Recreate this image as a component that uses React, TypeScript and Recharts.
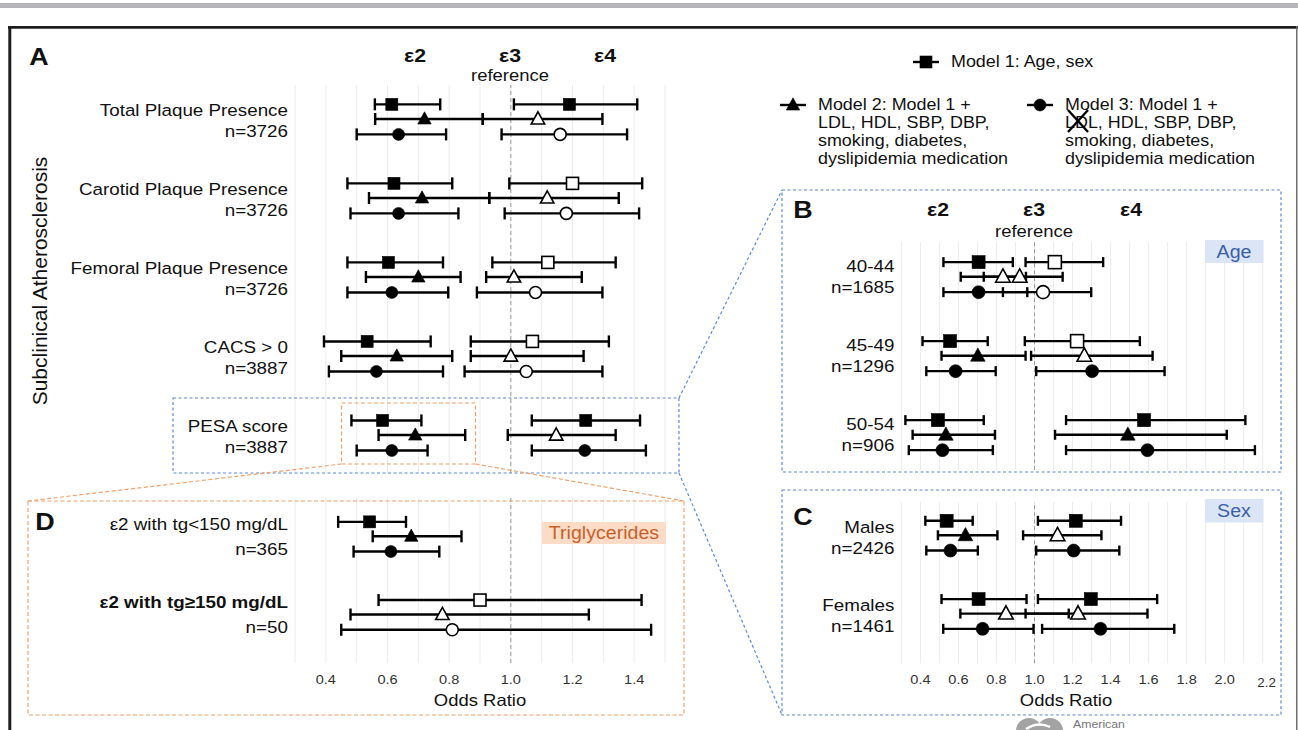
import React from "react";
import { ScatterChart, Scatter, XAxis, YAxis, ErrorBar, CartesianGrid, ReferenceLine } from "recharts";

type Est = [number, number, number, number]; // OR, lower CI, upper CI, filled (1) / open (0)

// ---- Panel A: subclinical atherosclerosis ----
const outcomesA = ["Total Plaque Presence", "Carotid Plaque Presence", "Femoral Plaque Presence", "CACS > 0", "PESA score"];
const nA = ["n=3726", "n=3726", "n=3726", "n=3887", "n=3887"];
const e2M1A: Est[] = [[0.614, 0.559, 0.771, 1], [0.621, 0.47, 0.81, 1], [0.603, 0.47, 0.78, 1], [0.534, 0.394, 0.74, 1], [0.584, 0.483, 0.71, 1]];
const e2M2A: Est[] = [[0.72, 0.56, 0.909, 1], [0.712, 0.54, 0.93, 1], [0.7, 0.53, 0.837, 1], [0.63, 0.45, 0.81, 1], [0.69, 0.571, 0.852, 1]];
const e2M3A: Est[] = [[0.636, 0.5, 0.79, 1], [0.636, 0.48, 0.83, 1], [0.614, 0.47, 0.797, 1], [0.564, 0.41, 0.78, 1], [0.614, 0.5, 0.73, 1]];
const e4M1A: Est[] = [[1.19, 1.01, 1.41, 1], [1.2, 0.995, 1.426, 0], [1.12, 0.94, 1.34, 0], [1.07, 0.87, 1.318, 0], [1.243, 1.068, 1.419, 1]];
const e4M2A: Est[] = [[1.088, 0.909, 1.297, 0], [1.118, 0.93, 1.35, 0], [1.01, 0.92, 1.23, 0], [1.0, 0.87, 1.236, 0], [1.147, 0.99, 1.34, 0]];
const e4M3A: Est[] = [[1.16, 0.97, 1.377, 0], [1.18, 0.98, 1.416, 0], [1.08, 0.89, 1.297, 0], [1.05, 0.85, 1.297, 0], [1.24, 1.068, 1.438, 1]];

// ---- Panel B: age ----
const groupsB = ["40-44", "45-49", "50-54"];
const nB = ["n=1685", "n=1296", "n=906"];
const e2M1B: Est[] = [[0.706, 0.521, 0.886, 1], [0.556, 0.411, 0.754, 1], [0.492, 0.321, 0.733, 1]];
const e2M2B: Est[] = [[0.834, 0.612, 0.955, 0], [0.702, 0.511, 0.953, 1], [0.534, 0.359, 0.792, 1]];
const e2M3B: Est[] = [[0.706, 0.521, 0.962, 1], [0.585, 0.431, 0.796, 1], [0.516, 0.339, 0.781, 1]];
const e4M1B: Est[] = [[1.107, 0.953, 1.361, 0], [1.224, 0.949, 1.554, 0], [1.576, 1.166, 2.109, 1]];
const e4M2B: Est[] = [[0.922, 0.733, 1.148, 0], [1.262, 0.982, 1.621, 0], [1.491, 1.108, 2.011, 1]];
const e4M3B: Est[] = [[1.045, 0.834, 1.298, 0], [1.303, 1.009, 1.684, 1], [1.594, 1.166, 2.159, 1]];

// ---- Panel C: sex ----
const groupsC = ["Males", "Females"];
const nC = ["n=2426", "n=1461"];
const e2M1C: Est[] = [[0.538, 0.426, 0.675, 1], [0.706, 0.511, 0.958, 1]];
const e2M2C: Est[] = [[0.637, 0.492, 0.805, 1], [0.85, 0.61, 1.18, 0]];
const e2M3C: Est[] = [[0.558, 0.431, 0.702, 1], [0.727, 0.52, 0.995, 1]];
const e4M1C: Est[] = [[1.217, 1.018, 1.455, 1], [1.296, 1.018, 1.645, 1]];
const e4M2C: Est[] = [[1.121, 0.94, 1.352, 0], [1.229, 0.953, 1.594, 0]];
const e4M3C: Est[] = [[1.206, 1.009, 1.446, 1], [1.347, 1.04, 1.735, 1]];

// ---- Panel D: triglycerides (e2 only) ----
const groupsD = ["ε2 with tg<150 mg/dL", "ε2 with tg≥150 mg/dL"];
const nD = ["n=365", "n=50"];
const e2M1D: Est[] = [[0.542, 0.44, 0.66, 1], [0.9, 0.571, 1.424, 0]];
const e2M2D: Est[] = [[0.677, 0.552, 0.84, 1], [0.778, 0.48, 1.253, 0]];
const e2M3D: Est[] = [[0.611, 0.49, 0.768, 1], [0.81, 0.45, 1.455, 0]];

// axes
const gridNarrow = [0.3, 0.4, 0.5, 0.6, 0.7, 0.8, 0.9, 1.0, 1.1, 1.2, 1.3, 1.4, 1.5];
const gridWide = [0.3, 0.4, 0.5, 0.6, 0.7, 0.8, 0.9, 1.0, 1.1, 1.2, 1.3, 1.4, 1.5, 1.6, 1.7, 1.8, 1.9, 2.0, 2.1, 2.2];
const ticksNarrow = [0.4, 0.6, 0.8, 1.0, 1.2, 1.4];
const ticksWide = [0.4, 0.6, 0.8, 1.0, 1.2, 1.4, 1.6, 1.8, 2.0, 2.2];

const FONT = '"Liberation Sans", Arial, Helvetica, sans-serif';
const STRETCH = 1.12;
const MODEL_OFFSET = [-0.185, 0, 0.195];
const SHAPES = ["square", "triangle", "circle"];

function SText({ x, y, size, children, anchor = "start", weight = 400, fill = "#111", sx = STRETCH }: any) {
  return (
    <text
      transform={`translate(${x} ${y}) scale(${sx} 1)`}
      fontSize={size}
      fontWeight={weight}
      fill={fill}
      textAnchor={anchor}
      dominantBaseline="central"
    >
      {children}
    </text>
  );
}

function buildPoints(e2: Est[], e4: Est[] | undefined, m: number) {
  const pts: any[] = [];
  [e2, e4 || []].forEach((set) =>
    set.forEach((r, i) =>
      pts.push({ x: r[0], y: i + MODEL_OFFSET[m], err: [r[0] - r[1], r[2] - r[0]], filled: r[3] === 1 })
    )
  );
  return pts;
}

function Marker(props: any) {
  const { cx, cy, payload, kind, s } = props;
  if (typeof cx !== "number" || typeof cy !== "number") return null;
  const filled = payload && payload.filled;
  const fill = filled ? "#000" : "#fff";
  const sw = filled ? 0.6 : 1.6;
  if (kind === "square")
    return <rect x={cx - s / 2} y={cy - s / 2} width={s} height={s} fill={fill} stroke="#000" strokeWidth={sw} />;
  if (kind === "triangle") {
    const hw = s * 0.56;
    return (
      <polygon
        points={`${cx},${cy - s * 0.6} ${cx + hw},${cy + s * 0.42} ${cx - hw},${cy + s * 0.42}`}
        fill={fill}
        stroke="#000"
        strokeWidth={sw}
        strokeLinejoin="miter"
      />
    );
  }
  return <circle cx={cx} cy={cy} r={s / 2} fill={fill} stroke="#000" strokeWidth={sw} />;
}

function RowLabel(props: any) {
  const { x, y, payload, names, ns, size, up, down, boldRow } = props;
  const i = payload.value;
  return (
    <g>
      <SText x={x} y={y - up} size={size} anchor="end" weight={i === boldRow ? 700 : 400}>
        {names[i]}
      </SText>
      <SText x={x} y={y + down} size={size} anchor="end">
        {ns[i]}
      </SText>
    </g>
  );
}

function AxisTick(props: any) {
  const { x, y, payload } = props;
  const v = payload.value;
  const small = Math.abs(v - 2.2) < 1e-6;
  return (
    <SText x={small ? x + 4 : x} y={y + (small ? 19 : 16.5)} size={small ? 12 : 13} anchor="middle" fill="#333">
      {v.toFixed(1)}
    </SText>
  );
}

type PanelProps = {
  left: number;
  top: number;
  width: number;
  plotHeight: number;
  axisHeight: number;
  labelWidth: number;
  names: string[];
  ns: string[];
  e2: Est[][];
  e4?: Est[][];
  xDomain: [number, number];
  grid: number[];
  yDomain: [number, number];
  ticks?: number[];
  labelSize: number;
  up: number;
  down: number;
  boldRow?: number;
  markerSize: number;
  cap: number;
};

const RIGHT_PAD = 14;

function ForestPanel(p: PanelProps) {
  const showAxis = !!p.ticks;
  return (
    <div style={{ position: "absolute", left: p.left, top: p.top }}>
      <ScatterChart
        width={p.width + RIGHT_PAD}
        height={p.plotHeight + (showAxis ? p.axisHeight : 0)}
        margin={{ top: 0, right: RIGHT_PAD, bottom: 0, left: 0 }}
      >
        <CartesianGrid horizontal={false} verticalValues={p.grid} stroke="#ececec" strokeWidth={1} />
        <XAxis
          type="number"
          dataKey="x"
          domain={p.xDomain}
          allowDataOverflow
          ticks={p.ticks || p.grid}
          interval={0}
          hide={!showAxis}
          height={p.axisHeight}
          axisLine={false}
          tickLine={false}
          tickSize={0}
          tickMargin={0}
          tick={(t: any) => <AxisTick {...t} />}
        />
        <YAxis
          type="number"
          dataKey="y"
          domain={p.yDomain}
          allowDataOverflow
          reversed
          ticks={p.names.map((_, i) => i)}
          interval={0}
          width={p.labelWidth}
          axisLine={false}
          tickLine={false}
          tickSize={0}
          tickMargin={7}
          tick={(t: any) => (
            <RowLabel {...t} names={p.names} ns={p.ns} size={p.labelSize} up={p.up} down={p.down} boldRow={p.boldRow} />
          )}
        />
        <ReferenceLine x={1} stroke="#9c9c9c" strokeDasharray="4 3" strokeWidth={1} />
        {[0, 1, 2].map((m) => (
          <Scatter
            key={m}
            data={buildPoints(p.e2[m], p.e4 ? p.e4[m] : undefined, m)}
            isAnimationActive={false}
            shape={(s: any) => <Marker {...s} kind={SHAPES[m]} s={p.markerSize} />}
          >
            <ErrorBar dataKey="err" direction="x" width={p.cap} strokeWidth={2.4} stroke="#000" isAnimationActive={false} />
          </Scatter>
        ))}
      </ScatterChart>
    </div>
  );
}

function LegendKey({ x, y, kind }: any) {
  return (
    <g>
      <line x1={x - 13} y1={y} x2={x + 13} y2={y} stroke="#000" strokeWidth={2.4} />
      <Marker cx={x} cy={y} payload={{ filled: true }} kind={kind} s={12} />
    </g>
  );
}

const BLUE = "#5a8ad8";
const ORANGE = "#f2a06a";
const LEG = 16;

export default function App() {
  return (
    <div
      style={{
        position: "absolute",
        left: 0,
        top: 0,
        width: 1298,
        height: 730,
        overflow: "hidden",
        background: "#fff",
        fontFamily: FONT,
      }}
    >
      <ForestPanel
        left={40}
        top={85}
        width={625}
        plotHeight={388}
        axisHeight={0}
        labelWidth={255}
        names={outcomesA}
        ns={nA}
        e2={[e2M1A, e2M2A, e2M3A]}
        e4={[e4M1A, e4M2A, e4M3A]}
        xDomain={[0.3, 1.5]}
        grid={gridNarrow}
        yDomain={[-0.43, 4.48]}
        labelSize={16.8}
        up={9}
        down={12}
        markerSize={12}
        cap={6}
      />
      <ForestPanel
        left={40}
        top={498}
        width={625}
        plotHeight={165}
        axisHeight={50}
        labelWidth={255}
        names={groupsD}
        ns={nD}
        e2={[e2M1D, e2M2D, e2M3D]}
        xDomain={[0.3, 1.5]}
        grid={gridNarrow}
        yDomain={[-0.49, 1.62]}
        ticks={ticksNarrow}
        labelSize={16.8}
        up={12}
        down={13}
        boldRow={1}
        markerSize={12}
        cap={6}
      />
      <ForestPanel
        left={800}
        top={241.7}
        width={462.7}
        plotHeight={228.3}
        axisHeight={0}
        labelWidth={101.4}
        names={groupsB}
        ns={nB}
        e2={[e2M1B, e2M2B, e2M3B]}
        e4={[e4M1B, e4M2B, e4M3B]}
        xDomain={[0.3, 2.2]}
        grid={gridWide}
        yDomain={[-0.44, 2.45]}
        labelSize={16.8}
        up={10}
        down={11}
        markerSize={13}
        cap={5}
      />
      <ForestPanel
        left={800}
        top={501.7}
        width={462.7}
        plotHeight={161.3}
        axisHeight={50}
        labelWidth={101.4}
        names={groupsC}
        ns={nC}
        e2={[e2M1C, e2M2C, e2M3C]}
        e4={[e4M1C, e4M2C, e4M3C]}
        xDomain={[0.3, 2.2]}
        grid={gridWide}
        yDomain={[-0.425, 1.635]}
        ticks={ticksWide}
        labelSize={16.8}
        up={8}
        down={13}
        markerSize={13}
        cap={5}
      />

      <svg
        width={1298}
        height={730}
        style={{ position: "absolute", left: 0, top: 0, pointerEvents: "none", fontFamily: FONT }}
      >
        {/* page chrome */}
        <rect x={0} y={3} width={1298} height={5} fill="#b4b4b9" />
        <line x1={8} y1={27.3} x2={1298} y2={27.3} stroke="#1e1e1e" strokeWidth={2.8} />
        <line x1={9.8} y1={26} x2={9.8} y2={730} stroke="#1e1e1e" strokeWidth={3} />
        <line x1={1296.8} y1={26} x2={1296.8} y2={730} stroke="#6e6e6e" strokeWidth={1.5} />

        {/* panel A headers */}
        <SText x={39} y={57} size={24} weight={700} anchor="middle">A</SText>
        <SText x={415} y={55} size={19} weight={700} anchor="middle">ε2</SText>
        <SText x={510} y={55} size={19} weight={700} anchor="middle">ε3</SText>
        <SText x={605} y={55} size={19} weight={700} anchor="middle">ε4</SText>
        <SText x={510} y={75} size={16.5} anchor="middle">reference</SText>
        <text
          transform="translate(39 281) rotate(-90)"
          fontSize={21}
          fill="#111"
          textAnchor="middle"
          dominantBaseline="central"
        >
          Subclinical Atherosclerosis
        </text>

        {/* zoom boxes and connectors */}
        <rect x={173} y={398} width={506} height={75} fill="none" stroke={BLUE} strokeWidth={1.2} strokeDasharray="3 2.5" />
        <line x1={679} y1={398} x2={782} y2={190} stroke={BLUE} strokeWidth={1.2} strokeDasharray="3 2.5" />
        <line x1={679} y1={473} x2={782} y2={715} stroke={BLUE} strokeWidth={1.2} strokeDasharray="3 2.5" />
        <rect x={782} y={190} width={499} height={282} fill="none" stroke={BLUE} strokeWidth={1.2} strokeDasharray="3 2.5" />
        <rect x={782} y={490} width={499} height={225} fill="none" stroke={BLUE} strokeWidth={1.2} strokeDasharray="3 2.5" />

        <rect x={341.5} y={403} width={134} height={61} fill="none" stroke={ORANGE} strokeWidth={1.2} strokeDasharray="4 2.5" />
        <line x1={341.5} y1={464} x2={28} y2={501} stroke={ORANGE} strokeWidth={1.2} strokeDasharray="4 2.5" />
        <line x1={475.5} y1={464} x2={684} y2={501} stroke={ORANGE} strokeWidth={1.2} strokeDasharray="4 2.5" />
        <rect x={28} y={501} width={656} height={214} fill="none" stroke={ORANGE} strokeWidth={1.2} strokeDasharray="4 2.5" />

        {/* panel D decorations */}
        <SText x={45} y={522} size={24} weight={700} anchor="middle">D</SText>
        <rect x={542} y={522} width={124} height={22} fill="#fcdcc6" />
        <SText x={604} y={533} size={17.5} anchor="middle" fill="#c8602a">Triglycerides</SText>
        <SText x={480} y={700} size={16.5} anchor="middle">Odds Ratio</SText>

        {/* panel B decorations */}
        <SText x={803} y={210} size={24} weight={700} anchor="middle">B</SText>
        <SText x={938} y={209} size={19} weight={700} anchor="middle">ε2</SText>
        <SText x={1034} y={209} size={19} weight={700} anchor="middle">ε3</SText>
        <SText x={1131} y={209} size={19} weight={700} anchor="middle">ε4</SText>
        <SText x={1034} y={231.5} size={16.5} anchor="middle">reference</SText>
        <rect x={1205} y={240} width={58.5} height={23} fill="#dbe5f5" />
        <SText x={1234} y={251.5} size={17.5} anchor="middle" fill="#3a5fa6">Age</SText>

        {/* panel C decorations */}
        <SText x={803} y={517} size={24} weight={700} anchor="middle">C</SText>
        <rect x={1205} y={499} width={58.5} height={23.5} fill="#dbe5f5" />
        <SText x={1234} y={511} size={17.5} anchor="middle" fill="#3a5fa6">Sex</SText>
        <SText x={1066} y={700} size={16.5} anchor="middle">Odds Ratio</SText>

        {/* legend */}
        <LegendKey x={926} y={62} kind="square" />
        <SText x={951} y={62} size={LEG}>Model 1: Age, sex</SText>
        <LegendKey x={793} y={105} kind="triangle" />
        <SText x={818} y={105} size={LEG}>Model 2: Model 1 +</SText>
        <SText x={818} y={123} size={LEG}>LDL, HDL, SBP, DBP,</SText>
        <SText x={818} y={141} size={LEG}>smoking, diabetes,</SText>
        <SText x={818} y={159} size={LEG}>dyslipidemia medication</SText>
        <LegendKey x={1040} y={105} kind="circle" />
        <SText x={1065} y={105} size={LEG}>Model 3: Model 1 +</SText>
        <SText x={1065} y={123} size={LEG}>LDL, HDL, SBP, DBP,</SText>
        <SText x={1065} y={141} size={LEG}>smoking, diabetes,</SText>
        <SText x={1065} y={159} size={LEG}>dyslipidemia medication</SText>
        <line x1={1068} y1={110} x2={1088} y2={132} stroke="#000" strokeWidth={2.4} />
        <line x1={1088} y1={110} x2={1068} y2={132} stroke="#000" strokeWidth={2.4} />

        {/* publisher mark */}
        <circle cx={1029} cy={731} r={13} fill="#a3a3a3" />
        <circle cx={1050} cy={731} r={13} fill="#a3a3a3" />
        <path d="M1026 729 Q1038 721 1050 727" stroke="#fff" strokeWidth={2.5} fill="none" />
        <SText x={1073} y={724} size={11} fill="#777">American</SText>
      </svg>
    </div>
  );
}
